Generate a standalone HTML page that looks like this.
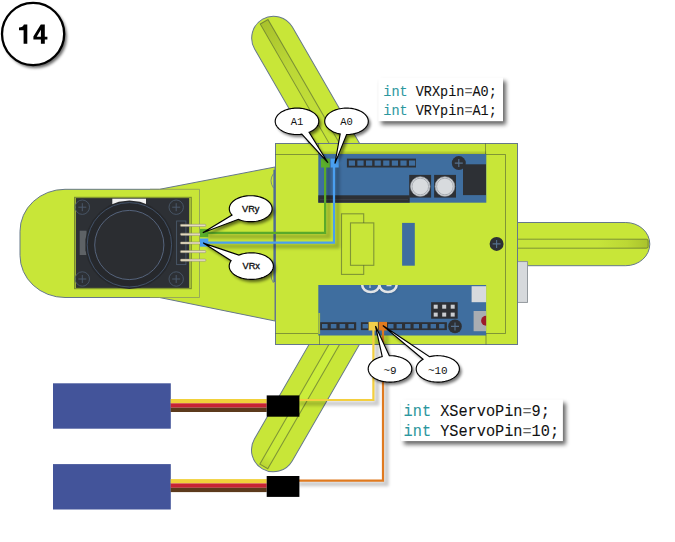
<!DOCTYPE html><html><head><meta charset="utf-8"><style>html,body{margin:0;padding:0;background:#fff;width:675px;height:542px;overflow:hidden}svg{display:block}</style></head><body><svg width="675" height="542" viewBox="0 0 675 542">
<defs>
<filter id="blur2" x="-20%" y="-20%" width="140%" height="140%"><feGaussianBlur stdDeviation="1.6"/></filter>
<filter id="blur15" x="-20%" y="-20%" width="140%" height="140%"><feGaussianBlur stdDeviation="1.5"/></filter>
<filter id="blur1" x="-20%" y="-20%" width="140%" height="140%"><feGaussianBlur stdDeviation="1"/></filter>
<filter id="blur3" x="-20%" y="-20%" width="140%" height="140%"><feGaussianBlur stdDeviation="2.2"/></filter>
<linearGradient id="grooveT" x1="0" y1="0" x2="1" y2="0">
<stop offset="0" stop-color="#a9c22c"/><stop offset="0.35" stop-color="#bcd836"/><stop offset="1" stop-color="#c6e43a"/></linearGradient>
<linearGradient id="grooveR" x1="0" y1="0" x2="1" y2="0">
<stop offset="0" stop-color="#c6e43a"/><stop offset="0.65" stop-color="#c6e43a"/><stop offset="0.85" stop-color="#bcd834"/><stop offset="1" stop-color="#a9c22c"/></linearGradient>
<linearGradient id="grooveB" x1="0" y1="0" x2="1" y2="0">
<stop offset="0" stop-color="#b9d432"/><stop offset="0.08" stop-color="#c9ea3a"/><stop offset="1" stop-color="#cdef3c"/></linearGradient>
<linearGradient id="topsh" x1="0" y1="0" x2="0" y2="1"><stop offset="0" stop-color="#000" stop-opacity="0"/><stop offset="1" stop-color="#000" stop-opacity="0.22"/></linearGradient>
<radialGradient id="knob" cx="0.5" cy="0.5" r="0.5"><stop offset="0.7" stop-color="#2a2c30"/><stop offset="1" stop-color="#232528"/></radialGradient>
</defs>
<rect width="675" height="542" fill="#fff"/>
<circle cx="35.3" cy="36.6" r="31.5" fill="#000" opacity="0.6" filter="url(#blur2)"/>
<circle cx="33.1" cy="34" r="31.1" fill="#fff" stroke="#000" stroke-width="2.3"/>
<path d="M19,27.6 C21.6,27.6 23.3,26.6 23.9,24.6 L27.3,24.6 L27.3,43.7 L23.6,43.7 L23.6,30.3 L19,30.3 Z" fill="#000"/>
<path fill-rule="evenodd" d="M40.8,24.6 L44.8,24.6 L44.8,36.8 L47.4,36.8 L47.4,39.5 L44.8,39.5 L44.8,43.7 L40.9,43.7 L40.9,39.5 L33.4,39.5 L33.4,36.5 Z M36.7,36.8 L40.9,36.8 L40.9,29.8 Z" fill="#000"/>
<g transform="translate(273.5,38) rotate(60)">
<path d="M0,-21.8 L140,-21.8 L140,21.8 L0,21.8 A21.8,21.8 0 0 1 0,-21.8 Z" fill="#c8e638" stroke="#66788a" stroke-width="1"/>
</g>
<g transform="translate(273.5,38) rotate(60)">
<rect x="-18.8" y="-4.5" width="150" height="9" fill="url(#grooveT)" stroke="rgba(55,70,50,0.5)" stroke-width="1"/>
</g>
<g transform="translate(273.3,450) rotate(-60)">
<path d="M0,-21.8 L140,-21.8 L140,21.8 L0,21.8 A21.8,21.8 0 0 1 0,-21.8 Z" fill="#c8e638" stroke="#66788a" stroke-width="1"/>
</g>
<g transform="translate(273.3,450) rotate(-60)">
<rect x="-19" y="-4.6" width="150" height="9.2" fill="url(#grooveB)" stroke="rgba(55,70,50,0.5)" stroke-width="1"/>
</g>
<path d="M500,222.5 L625.8,222.5 A24,21.6 0 0 1 625.8,265.7 L500,265.7 Z" fill="#c8e638" stroke="#66788a" stroke-width="1"/>
<path d="M505,239.2 H646.5 Q648.2,239.2 648.2,241 V246.4 Q648.2,248.2 646.5,248.2 H505 Z" fill="url(#grooveR)" stroke="rgba(55,70,50,0.5)" stroke-width="1"/>
<rect x="517.5" y="261.6" width="10" height="40.8" fill="#d6d9dc" stroke="#8a9096" stroke-width="0.9"/>
<path d="M275,167 L159.5,189.3 L65,189.3 A45,42 0 0 0 20,231.3 L20,255.5 A45,42 0 0 0 65,297.5 L159.5,297.5 L275,321 Z" fill="#c8e638" stroke="#66788a" stroke-width="1"/>
<rect x="275.5" y="143.5" width="242" height="201" fill="#c8e638" stroke="#66788a" stroke-width="1"/>
<path d="M275.5,154.5 H318.5 V143.5 M485.5,143.5 V154.5 H505.5 V333.5 H486 V344.5 M275.5,333.5 H319.5 V344.5 M319.5,315 V334" fill="none" stroke="rgba(55,70,50,0.5)" stroke-width="1"/>
<path d="M274.2,169.8 V282" stroke="#4d6d95" stroke-width="1.6"/>
<path d="M273.5,173.5 Q268.5,180.7 273.5,188" fill="none" stroke="#66788a" stroke-width="0.8"/>
<path d="M273.5,267 Q268.5,275 273.5,283" fill="none" stroke="#66788a" stroke-width="0.8"/>
<rect x="318.5" y="150.5" width="167.8" height="4" fill="url(#topsh)"/>
<rect x="318.3" y="154" width="168" height="48.7" fill="#3f6e9f"/>
<rect x="318.3" y="195.3" width="91.4" height="7.4" fill="#2d3035"/>
<rect x="320" y="199" width="88" height="1.2" fill="#3a3e44"/>
<rect x="346.9" y="158.6" width="69.1" height="8.9" fill="#2d3035"/>
<rect x="348.80" y="160.5" width="6.2" height="5.2" fill="#3f6e9f"/>
<rect x="357.40" y="160.5" width="6.2" height="5.2" fill="#3f6e9f"/>
<rect x="366.00" y="160.5" width="6.2" height="5.2" fill="#3f6e9f"/>
<rect x="374.60" y="160.5" width="6.2" height="5.2" fill="#3f6e9f"/>
<rect x="383.20" y="160.5" width="6.2" height="5.2" fill="#3f6e9f"/>
<rect x="391.80" y="160.5" width="6.2" height="5.2" fill="#3f6e9f"/>
<rect x="400.40" y="160.5" width="6.2" height="5.2" fill="#3f6e9f"/>
<rect x="409.00" y="160.5" width="6.2" height="5.2" fill="#3f6e9f"/>
<rect x="409.2" y="174.9" width="21.9" height="22.7" fill="#2d3035"/>
<circle cx="420.3" cy="186.5" r="9.8" fill="#d8dbde" stroke="#9ca1a7" stroke-width="0.7"/>
<circle cx="420.3" cy="186.5" r="8.3" fill="none" stroke="#9ca1a7" stroke-width="0.8"/>
<rect x="434.1" y="174.9" width="21.9" height="22.7" fill="#2d3035"/>
<circle cx="444.9" cy="186.5" r="9.8" fill="#d8dbde" stroke="#9ca1a7" stroke-width="0.7"/>
<circle cx="444.9" cy="186.5" r="8.3" fill="none" stroke="#9ca1a7" stroke-width="0.8"/>
<circle cx="458.8" cy="163.1" r="7" fill="#2d3035"/>
<path d="M454.8,163.1 H462.8 M458.8,159.1 V167.1" stroke="#55708e" stroke-width="1.1"/>
<rect x="463" y="164.3" width="23" height="30.8" fill="#2d3035"/>
<rect x="341.5" y="213.8" width="22.2" height="60.6" fill="none" stroke="rgba(55,70,50,0.5)" stroke-width="1.1"/>
<rect x="350.5" y="222.9" width="23.3" height="42.4" fill="#c8e638" stroke="rgba(55,70,50,0.5)" stroke-width="1.1"/>
<rect x="402.1" y="222.9" width="12.7" height="42.8" fill="#3f6e9f"/>
<circle cx="496.6" cy="243.9" r="7" fill="#2d3035"/>
<path d="M492.6,243.9 H500.6 M496.6,239.9 V247.9" stroke="#55708e" stroke-width="1.1"/>
<rect x="318.3" y="285" width="167.8" height="50.5" fill="#3f6e9f"/>
<rect x="318.3" y="313" width="1.8" height="21" fill="#a9c33a"/>
<path d="M362.2,285.1 A8.6,6.9 0 0 0 379.4,285.1 A8.6,6.9 0 0 0 396.6,285.1" fill="none" stroke="#2d4a6a" stroke-width="2.6" opacity="0.35" transform="translate(0.6,0.8)" filter="url(#blur1)"/>
<path d="M362.2,285.1 A8.6,6.9 0 0 0 379.4,285.1 A8.6,6.9 0 0 0 396.6,285.1" fill="none" stroke="#e2e4e6" stroke-width="2.6"/>
<path d="M370,285.2 V288 M386.5,285.6 H391.5" stroke="#d5dadf" stroke-width="1.1"/>
<rect x="471.6" y="286.2" width="14.5" height="16" fill="#d7dadd"/>
<rect x="431.1" y="302.2" width="26.6" height="16.5" fill="#2d3035"/>
<rect x="433.7" y="304.7" width="4" height="4" fill="#c9ccd0"/>
<rect x="433.7" y="312.6" width="4" height="4" fill="#c9ccd0"/>
<rect x="442.2" y="304.7" width="4" height="4" fill="#c9ccd0"/>
<rect x="442.2" y="312.6" width="4" height="4" fill="#c9ccd0"/>
<rect x="450.7" y="304.7" width="4" height="4" fill="#c9ccd0"/>
<rect x="450.7" y="312.6" width="4" height="4" fill="#c9ccd0"/>
<rect x="473.6" y="311" width="12.5" height="20.2" fill="#a9adb2"/>
<path d="M486.1,315.8 A5,5 0 0 0 486.1,325.8 Z" fill="#9b1b2a"/>
<rect x="320.2" y="322.2" width="36" height="7.9" fill="#2d3035"/>
<rect x="322.00" y="324" width="5.6" height="4.4" fill="#3f6e9f"/>
<rect x="330.80" y="324" width="5.6" height="4.4" fill="#3f6e9f"/>
<rect x="339.60" y="324" width="5.6" height="4.4" fill="#3f6e9f"/>
<rect x="348.40" y="324" width="5.6" height="4.4" fill="#3f6e9f"/>
<rect x="360.9" y="322.2" width="86" height="7.9" fill="#2d3035"/>
<rect x="362.60" y="324" width="5.4" height="4.4" fill="#3f6e9f"/>
<rect x="371.10" y="324" width="5.4" height="4.4" fill="#3f6e9f"/>
<rect x="379.60" y="324" width="5.4" height="4.4" fill="#3f6e9f"/>
<rect x="388.10" y="324" width="5.4" height="4.4" fill="#3f6e9f"/>
<rect x="396.60" y="324" width="5.4" height="4.4" fill="#3f6e9f"/>
<rect x="405.10" y="324" width="5.4" height="4.4" fill="#3f6e9f"/>
<rect x="413.60" y="324" width="5.4" height="4.4" fill="#3f6e9f"/>
<rect x="422.10" y="324" width="5.4" height="4.4" fill="#3f6e9f"/>
<rect x="430.60" y="324" width="5.4" height="4.4" fill="#3f6e9f"/>
<rect x="439.10" y="324" width="5.4" height="4.4" fill="#3f6e9f"/>
<circle cx="455" cy="326.4" r="6.8" fill="#2d3035"/>
<path d="M451,326.4 H459 M455,322.4 V330.4" stroke="#55708e" stroke-width="1.1"/>
<path d="M150,189.3 H199.5 V297.5 H150" fill="none" stroke="#8a9a60" stroke-width="0.8"/>
<rect x="74.5" y="197.3" width="116.8" height="91.4" fill="#b4cc3a" stroke="rgba(60,75,40,0.55)" stroke-width="1"/>
<rect x="75.8" y="198.1" width="113.4" height="89.8" fill="#2d3035"/>
<rect x="112.3" y="198.7" width="33.7" height="5.8" fill="#f2f2f2"/>
<rect x="79.7" y="230.7" width="6.8" height="24.3" fill="#5e6266"/>
<circle cx="82.3" cy="207.2" r="7.2" fill="none" stroke="#4a586a" stroke-width="0.9"/>
<path d="M78.3,207.2 H86.3 M82.3,203.2 V211.2" stroke="#4a586a" stroke-width="1"/>
<circle cx="176.2" cy="207.2" r="7.2" fill="none" stroke="#4a586a" stroke-width="0.9"/>
<path d="M172.2,207.2 H180.2 M176.2,203.2 V211.2" stroke="#4a586a" stroke-width="1"/>
<circle cx="82.3" cy="279" r="7.2" fill="none" stroke="#4a586a" stroke-width="0.9"/>
<path d="M78.3,279 H86.3 M82.3,275 V283" stroke="#4a586a" stroke-width="1"/>
<circle cx="176.2" cy="279" r="7.2" fill="none" stroke="#4a586a" stroke-width="0.9"/>
<path d="M172.2,279 H180.2 M176.2,275 V283" stroke="#4a586a" stroke-width="1"/>
<polygon points="129.40,200.50 140.00,201.79 149.99,205.57 158.78,211.64 165.86,219.63 170.82,229.09 173.38,239.46 173.38,250.14 170.82,260.51 165.86,269.97 158.78,277.96 149.99,284.03 140.00,287.81 129.40,289.10 118.80,287.81 108.81,284.03 100.02,277.96 92.94,269.97 87.98,260.51 85.42,250.14 85.42,239.46 87.98,229.09 92.94,219.63 100.02,211.64 108.81,205.57 118.80,201.79" fill="#26282c"/>
<circle cx="129.4" cy="244.8" r="42.2" fill="none" stroke="#45566e" stroke-width="0.9"/>
<circle cx="129.3" cy="245" r="34.6" fill="#2b2d31" stroke="#5a6a84" stroke-width="0.9"/>
<rect x="176.6" y="221" width="9.3" height="43.6" fill="none" stroke="#4a586a" stroke-width="0.9"/>
<rect x="180.4" y="224.3" width="25.4" height="2.2" rx="0.8" fill="#e6dcc0" stroke="#8c8878" stroke-width="0.5"/>
<rect x="180.4" y="233.2" width="25.4" height="2.2" rx="0.8" fill="#e6dcc0" stroke="#8c8878" stroke-width="0.5"/>
<rect x="180.4" y="241.9" width="25.4" height="2.2" rx="0.8" fill="#e6dcc0" stroke="#8c8878" stroke-width="0.5"/>
<rect x="180.4" y="250.5" width="25.4" height="2.2" rx="0.8" fill="#e6dcc0" stroke="#8c8878" stroke-width="0.5"/>
<rect x="180.4" y="259.1" width="25.4" height="2.2" rx="0.8" fill="#e6dcc0" stroke="#8c8878" stroke-width="0.5"/>
<g filter="url(#blur15)" opacity="0.22">
<path d="M208,236.5 H328.6 V163" fill="none" stroke="#000" stroke-width="4.5"/>
<path d="M208,246.3 H337.6 V165" fill="none" stroke="#000" stroke-width="4.5"/>
</g>
<path d="M204,232.9 H325.1 V163" fill="none" stroke="#5aaa2a" stroke-width="2.2"/>
<path d="M204,242.7 H334 V163" fill="none" stroke="#4a9ff0" stroke-width="2.2"/>
<rect x="200" y="228.9" width="8.3" height="8.3" fill="#5aae2c"/>
<rect x="200" y="238.5" width="8.3" height="8.2" fill="#4a9ff0"/>
<rect x="320.9" y="158.6" width="8.9" height="8.9" fill="#5aae2c"/>
<rect x="330.6" y="158.6" width="8.1" height="8.9" fill="#4a9ff0"/>
<rect x="53" y="383.3" width="117.8" height="45.4" fill="#43549a"/>
<rect x="53" y="464.1" width="117.8" height="45.4" fill="#43549a"/>
<rect x="170.7" y="399" width="96" height="4.3" fill="#f1d13a"/>
<rect x="170.7" y="403.3" width="96" height="4.4" fill="#c72333"/>
<rect x="170.7" y="407.7" width="96" height="4.3" fill="#5c3a1c"/>
<rect x="170.7" y="479.1" width="96" height="4.3" fill="#f1d13a"/>
<rect x="170.7" y="483.40000000000003" width="96" height="4.4" fill="#c72333"/>
<rect x="170.7" y="487.8" width="96" height="4.3" fill="#5c3a1c"/>
<g filter="url(#blur15)" opacity="0.2">
<path d="M299,403.5 H377 V334" fill="none" stroke="#000" stroke-width="4.5"/>
<path d="M299,484 H386.5 V334" fill="none" stroke="#000" stroke-width="4.5"/>
</g>
<path d="M299,400 H373.4 V326" fill="none" stroke="#f4cf3e" stroke-width="2.2"/>
<path d="M299,480.6 H383 V326" fill="none" stroke="#e07a1f" stroke-width="2.2"/>
<rect x="368.6" y="321.9" width="9.3" height="8.6" fill="#f4cf4a"/>
<rect x="378.7" y="321.9" width="8.3" height="8.6" fill="#e07a1f"/>
<rect x="266.7" y="395.4" width="32.7" height="21.3" fill="#000"/>
<rect x="266.7" y="476" width="32.7" height="20.9" fill="#000"/>
<path d="M327.90,162.70 L309.08,132.29 L310.39,131.72 L311.63,131.09 L312.78,130.41 L313.85,129.68 L314.83,128.90 L315.70,128.08 L316.48,127.22 L317.15,126.34 L317.71,125.42 L318.16,124.48 L318.49,123.53 L318.70,122.56 L318.79,121.59 L318.77,120.61 L318.63,119.64 L318.36,118.67 L317.99,117.73 L317.49,116.80 L316.89,115.89 L316.17,115.02 L315.35,114.18 L314.43,113.37 L313.42,112.62 L312.31,111.91 L311.13,111.25 L309.86,110.64 L308.52,110.09 L307.12,109.61 L305.67,109.19 L304.17,108.83 L302.63,108.55 L301.06,108.33 L299.46,108.18 L297.85,108.11 L296.24,108.11 L294.63,108.18 L293.04,108.32 L291.47,108.53 L289.92,108.81 L288.42,109.17 L286.96,109.58 L285.56,110.06 L284.22,110.61 L282.95,111.21 L281.76,111.86 L280.65,112.57 L279.62,113.33 L278.70,114.13 L277.87,114.97 L277.15,115.84 L276.54,116.74 L276.04,117.67 L275.65,118.62 L275.39,119.58 L275.24,120.55 L275.20,121.53 L275.29,122.50 L275.50,123.47 L275.82,124.43 L276.26,125.37 L276.81,126.28 L277.48,127.17 L278.25,128.03 L279.12,128.85 L280.09,129.63 L281.15,130.36 L282.30,131.05 L283.53,131.68 L284.83,132.25 L286.20,132.77 L287.63,133.22 L289.11,133.61 L290.64,133.93 L292.20,134.18 L293.78,134.36 L295.38,134.46 L296.99,134.50 L298.60,134.46 L300.21,134.36 L301.79,134.18 Z" fill="#000" opacity="0.55" transform="translate(2.2,2.6)" filter="url(#blur2)"/>
<path d="M327.90,162.70 L309.08,132.29 L310.39,131.72 L311.63,131.09 L312.78,130.41 L313.85,129.68 L314.83,128.90 L315.70,128.08 L316.48,127.22 L317.15,126.34 L317.71,125.42 L318.16,124.48 L318.49,123.53 L318.70,122.56 L318.79,121.59 L318.77,120.61 L318.63,119.64 L318.36,118.67 L317.99,117.73 L317.49,116.80 L316.89,115.89 L316.17,115.02 L315.35,114.18 L314.43,113.37 L313.42,112.62 L312.31,111.91 L311.13,111.25 L309.86,110.64 L308.52,110.09 L307.12,109.61 L305.67,109.19 L304.17,108.83 L302.63,108.55 L301.06,108.33 L299.46,108.18 L297.85,108.11 L296.24,108.11 L294.63,108.18 L293.04,108.32 L291.47,108.53 L289.92,108.81 L288.42,109.17 L286.96,109.58 L285.56,110.06 L284.22,110.61 L282.95,111.21 L281.76,111.86 L280.65,112.57 L279.62,113.33 L278.70,114.13 L277.87,114.97 L277.15,115.84 L276.54,116.74 L276.04,117.67 L275.65,118.62 L275.39,119.58 L275.24,120.55 L275.20,121.53 L275.29,122.50 L275.50,123.47 L275.82,124.43 L276.26,125.37 L276.81,126.28 L277.48,127.17 L278.25,128.03 L279.12,128.85 L280.09,129.63 L281.15,130.36 L282.30,131.05 L283.53,131.68 L284.83,132.25 L286.20,132.77 L287.63,133.22 L289.11,133.61 L290.64,133.93 L292.20,134.18 L293.78,134.36 L295.38,134.46 L296.99,134.50 L298.60,134.46 L300.21,134.36 L301.79,134.18 Z" fill="#fff" stroke="#000" stroke-width="1.15" stroke-linejoin="miter"/>
<text x="297.00" y="122.30" font-family="Liberation Mono" font-size="10.5" text-anchor="middle" dominant-baseline="central" fill="#111" stroke="#111" stroke-width="0">A1</text>
<path d="M334.90,163.60 L346.60,134.50 L348.23,134.46 L349.85,134.34 L351.45,134.16 L353.02,133.90 L354.56,133.57 L356.05,133.17 L357.49,132.70 L358.86,132.17 L360.17,131.58 L361.40,130.93 L362.55,130.23 L363.61,129.48 L364.57,128.68 L365.43,127.85 L366.19,126.97 L366.83,126.06 L367.36,125.13 L367.78,124.18 L368.07,123.21 L368.25,122.22 L368.30,121.24 L368.23,120.25 L368.04,119.27 L367.73,118.30 L367.30,117.35 L366.75,116.42 L366.10,115.52 L365.33,114.65 L364.45,113.81 L363.48,113.02 L362.41,112.28 L361.25,111.58 L360.01,110.94 L358.69,110.36 L357.31,109.84 L355.86,109.38 L354.37,108.99 L352.82,108.67 L351.25,108.42 L349.64,108.24 L348.02,108.13 L346.39,108.10 L344.76,108.14 L343.14,108.26 L341.54,108.45 L339.97,108.71 L338.44,109.04 L336.94,109.44 L335.51,109.90 L334.13,110.43 L332.82,111.02 L331.59,111.67 L330.45,112.37 L329.39,113.12 L328.43,113.92 L327.57,114.76 L326.81,115.63 L326.17,116.54 L325.64,117.47 L325.22,118.43 L324.93,119.40 L324.75,120.38 L324.70,121.37 L324.77,122.35 L324.96,123.33 L325.27,124.30 L325.70,125.26 L326.25,126.19 L326.91,127.09 L327.68,127.96 L328.55,128.79 L329.53,129.58 L330.60,130.33 L331.76,131.02 L333.00,131.66 L334.31,132.24 L335.70,132.77 L337.14,133.22 L338.64,133.61 L340.18,133.93 Z" fill="#000" opacity="0.55" transform="translate(2.2,2.6)" filter="url(#blur2)"/>
<path d="M334.90,163.60 L346.60,134.50 L348.23,134.46 L349.85,134.34 L351.45,134.16 L353.02,133.90 L354.56,133.57 L356.05,133.17 L357.49,132.70 L358.86,132.17 L360.17,131.58 L361.40,130.93 L362.55,130.23 L363.61,129.48 L364.57,128.68 L365.43,127.85 L366.19,126.97 L366.83,126.06 L367.36,125.13 L367.78,124.18 L368.07,123.21 L368.25,122.22 L368.30,121.24 L368.23,120.25 L368.04,119.27 L367.73,118.30 L367.30,117.35 L366.75,116.42 L366.10,115.52 L365.33,114.65 L364.45,113.81 L363.48,113.02 L362.41,112.28 L361.25,111.58 L360.01,110.94 L358.69,110.36 L357.31,109.84 L355.86,109.38 L354.37,108.99 L352.82,108.67 L351.25,108.42 L349.64,108.24 L348.02,108.13 L346.39,108.10 L344.76,108.14 L343.14,108.26 L341.54,108.45 L339.97,108.71 L338.44,109.04 L336.94,109.44 L335.51,109.90 L334.13,110.43 L332.82,111.02 L331.59,111.67 L330.45,112.37 L329.39,113.12 L328.43,113.92 L327.57,114.76 L326.81,115.63 L326.17,116.54 L325.64,117.47 L325.22,118.43 L324.93,119.40 L324.75,120.38 L324.70,121.37 L324.77,122.35 L324.96,123.33 L325.27,124.30 L325.70,125.26 L326.25,126.19 L326.91,127.09 L327.68,127.96 L328.55,128.79 L329.53,129.58 L330.60,130.33 L331.76,131.02 L333.00,131.66 L334.31,132.24 L335.70,132.77 L337.14,133.22 L338.64,133.61 L340.18,133.93 Z" fill="#fff" stroke="#000" stroke-width="1.15" stroke-linejoin="miter"/>
<text x="346.50" y="122.30" font-family="Liberation Mono" font-size="10.5" text-anchor="middle" dominant-baseline="central" fill="#111" stroke="#111" stroke-width="0">A0</text>
<path d="M202.80,232.80 L238.36,219.32 L239.67,219.84 L241.03,220.30 L242.45,220.69 L243.91,221.03 L245.41,221.30 L246.93,221.50 L248.48,221.63 L250.03,221.69 L251.60,221.69 L253.15,221.61 L254.69,221.47 L256.22,221.26 L257.71,220.98 L259.16,220.64 L260.57,220.23 L261.93,219.77 L263.23,219.24 L264.46,218.66 L265.62,218.02 L266.70,217.34 L267.69,216.60 L268.59,215.83 L269.40,215.02 L270.11,214.18 L270.71,213.30 L271.21,212.40 L271.60,211.49 L271.88,210.55 L272.05,209.61 L272.10,208.66 L272.04,207.72 L271.86,206.77 L271.58,205.84 L271.18,204.92 L270.67,204.03 L270.06,203.16 L269.34,202.31 L268.52,201.51 L267.61,200.74 L266.61,200.01 L265.53,199.33 L264.36,198.70 L263.13,198.12 L261.83,197.60 L260.46,197.13 L259.05,196.73 L257.59,196.39 L256.10,196.12 L254.57,195.91 L253.03,195.78 L251.47,195.71 L249.91,195.71 L248.36,195.78 L246.81,195.92 L245.29,196.12 L243.79,196.40 L242.34,196.73 L240.92,197.14 L239.56,197.60 L238.26,198.12 L237.02,198.70 L235.86,199.33 L234.78,200.02 L233.78,200.74 L232.87,201.51 L232.05,202.32 L231.34,203.16 L230.72,204.04 L230.22,204.93 L229.82,205.85 L229.53,206.78 L229.36,207.72 L229.30,208.67 L229.35,209.62 L229.52,210.56 L229.80,211.49 L230.19,212.41 L230.69,213.31 L231.30,214.18 L232.01,215.03 Z" fill="#000" opacity="0.55" transform="translate(2.2,2.6)" filter="url(#blur2)"/>
<path d="M202.80,232.80 L238.36,219.32 L239.67,219.84 L241.03,220.30 L242.45,220.69 L243.91,221.03 L245.41,221.30 L246.93,221.50 L248.48,221.63 L250.03,221.69 L251.60,221.69 L253.15,221.61 L254.69,221.47 L256.22,221.26 L257.71,220.98 L259.16,220.64 L260.57,220.23 L261.93,219.77 L263.23,219.24 L264.46,218.66 L265.62,218.02 L266.70,217.34 L267.69,216.60 L268.59,215.83 L269.40,215.02 L270.11,214.18 L270.71,213.30 L271.21,212.40 L271.60,211.49 L271.88,210.55 L272.05,209.61 L272.10,208.66 L272.04,207.72 L271.86,206.77 L271.58,205.84 L271.18,204.92 L270.67,204.03 L270.06,203.16 L269.34,202.31 L268.52,201.51 L267.61,200.74 L266.61,200.01 L265.53,199.33 L264.36,198.70 L263.13,198.12 L261.83,197.60 L260.46,197.13 L259.05,196.73 L257.59,196.39 L256.10,196.12 L254.57,195.91 L253.03,195.78 L251.47,195.71 L249.91,195.71 L248.36,195.78 L246.81,195.92 L245.29,196.12 L243.79,196.40 L242.34,196.73 L240.92,197.14 L239.56,197.60 L238.26,198.12 L237.02,198.70 L235.86,199.33 L234.78,200.02 L233.78,200.74 L232.87,201.51 L232.05,202.32 L231.34,203.16 L230.72,204.04 L230.22,204.93 L229.82,205.85 L229.53,206.78 L229.36,207.72 L229.30,208.67 L229.35,209.62 L229.52,210.56 L229.80,211.49 L230.19,212.41 L230.69,213.31 L231.30,214.18 L232.01,215.03 Z" fill="#fff" stroke="#000" stroke-width="1.15" stroke-linejoin="miter"/>
<text x="250.70" y="209.00" font-family="Liberation Sans" font-size="9.2" text-anchor="middle" dominant-baseline="central" fill="#111" stroke="#111" stroke-width="0.35">VRy</text>
<path d="M203.30,243.10 L231.14,260.66 L230.54,261.54 L230.05,262.44 L229.67,263.37 L229.40,264.31 L229.24,265.26 L229.20,266.21 L229.27,267.16 L229.45,268.11 L229.75,269.04 L230.15,269.97 L230.67,270.87 L231.29,271.74 L232.01,272.59 L232.83,273.41 L233.75,274.18 L234.76,274.92 L235.85,275.61 L237.02,276.25 L238.26,276.84 L239.57,277.37 L240.95,277.85 L242.37,278.27 L243.84,278.62 L245.35,278.91 L246.89,279.13 L248.45,279.29 L250.03,279.38 L251.61,279.40 L253.19,279.35 L254.76,279.24 L256.32,279.05 L257.84,278.80 L259.34,278.49 L260.79,278.11 L262.20,277.67 L263.55,277.17 L264.83,276.62 L266.05,276.01 L267.19,275.34 L268.25,274.64 L269.22,273.88 L270.10,273.09 L270.88,272.26 L271.57,271.40 L272.15,270.52 L272.62,269.61 L272.98,268.68 L273.23,267.74 L273.37,266.79 L273.40,265.84 L273.31,264.89 L273.11,263.94 L272.79,263.01 L272.37,262.09 L271.84,261.19 L271.20,260.32 L270.46,259.48 L269.63,258.67 L268.69,257.90 L267.67,257.17 L266.57,256.48 L265.39,255.85 L264.13,255.27 L262.81,254.75 L261.43,254.28 L260.00,253.87 L258.52,253.53 L257.01,253.25 L255.46,253.04 L253.90,252.89 L252.32,252.81 L250.74,252.80 L249.16,252.86 L247.59,252.99 L246.04,253.18 L244.51,253.44 L243.02,253.77 L241.58,254.16 L240.18,254.61 L238.84,255.11 Z" fill="#000" opacity="0.55" transform="translate(2.2,2.6)" filter="url(#blur2)"/>
<path d="M203.30,243.10 L231.14,260.66 L230.54,261.54 L230.05,262.44 L229.67,263.37 L229.40,264.31 L229.24,265.26 L229.20,266.21 L229.27,267.16 L229.45,268.11 L229.75,269.04 L230.15,269.97 L230.67,270.87 L231.29,271.74 L232.01,272.59 L232.83,273.41 L233.75,274.18 L234.76,274.92 L235.85,275.61 L237.02,276.25 L238.26,276.84 L239.57,277.37 L240.95,277.85 L242.37,278.27 L243.84,278.62 L245.35,278.91 L246.89,279.13 L248.45,279.29 L250.03,279.38 L251.61,279.40 L253.19,279.35 L254.76,279.24 L256.32,279.05 L257.84,278.80 L259.34,278.49 L260.79,278.11 L262.20,277.67 L263.55,277.17 L264.83,276.62 L266.05,276.01 L267.19,275.34 L268.25,274.64 L269.22,273.88 L270.10,273.09 L270.88,272.26 L271.57,271.40 L272.15,270.52 L272.62,269.61 L272.98,268.68 L273.23,267.74 L273.37,266.79 L273.40,265.84 L273.31,264.89 L273.11,263.94 L272.79,263.01 L272.37,262.09 L271.84,261.19 L271.20,260.32 L270.46,259.48 L269.63,258.67 L268.69,257.90 L267.67,257.17 L266.57,256.48 L265.39,255.85 L264.13,255.27 L262.81,254.75 L261.43,254.28 L260.00,253.87 L258.52,253.53 L257.01,253.25 L255.46,253.04 L253.90,252.89 L252.32,252.81 L250.74,252.80 L249.16,252.86 L247.59,252.99 L246.04,253.18 L244.51,253.44 L243.02,253.77 L241.58,254.16 L240.18,254.61 L238.84,255.11 Z" fill="#fff" stroke="#000" stroke-width="1.15" stroke-linejoin="miter"/>
<text x="251.30" y="266.40" font-family="Liberation Sans" font-size="9.2" text-anchor="middle" dominant-baseline="central" fill="#111" stroke="#111" stroke-width="0.35">VRx</text>
<path d="M375.50,326.10 L389.30,355.71 L390.92,355.71 L392.54,355.79 L394.14,355.94 L395.72,356.16 L397.27,356.45 L398.77,356.82 L400.23,357.24 L401.64,357.74 L402.97,358.29 L404.24,358.90 L405.43,359.57 L406.53,360.29 L407.54,361.06 L408.45,361.87 L409.26,362.72 L409.97,363.61 L410.56,364.52 L411.05,365.46 L411.41,366.41 L411.66,367.38 L411.78,368.36 L411.79,369.34 L411.67,370.32 L411.44,371.29 L411.09,372.25 L410.62,373.19 L410.03,374.11 L409.34,374.99 L408.54,375.85 L407.63,376.66 L406.63,377.43 L405.54,378.16 L404.36,378.83 L403.10,379.45 L401.77,380.01 L400.37,380.51 L398.92,380.95 L397.41,381.31 L395.87,381.61 L394.29,381.84 L392.69,382.00 L391.08,382.08 L389.46,382.10 L387.84,382.03 L386.23,381.90 L384.65,381.70 L383.09,381.42 L381.57,381.07 L380.10,380.66 L378.69,380.18 L377.33,379.64 L376.05,379.04 L374.84,378.39 L373.72,377.68 L372.69,376.92 L371.75,376.12 L370.92,375.28 L370.19,374.40 L369.56,373.50 L369.06,372.56 L368.67,371.61 L368.39,370.64 L368.24,369.67 L368.20,368.69 L368.29,367.71 L368.50,366.73 L368.82,365.77 L369.26,364.83 L369.82,363.90 L370.49,363.01 L371.27,362.15 L372.15,361.32 L373.13,360.54 L374.20,359.81 L375.36,359.12 L376.60,358.49 L377.92,357.91 L379.30,357.40 L380.74,356.95 L382.23,356.57 Z" fill="#000" opacity="0.55" transform="translate(2.2,2.6)" filter="url(#blur2)"/>
<path d="M375.50,326.10 L389.30,355.71 L390.92,355.71 L392.54,355.79 L394.14,355.94 L395.72,356.16 L397.27,356.45 L398.77,356.82 L400.23,357.24 L401.64,357.74 L402.97,358.29 L404.24,358.90 L405.43,359.57 L406.53,360.29 L407.54,361.06 L408.45,361.87 L409.26,362.72 L409.97,363.61 L410.56,364.52 L411.05,365.46 L411.41,366.41 L411.66,367.38 L411.78,368.36 L411.79,369.34 L411.67,370.32 L411.44,371.29 L411.09,372.25 L410.62,373.19 L410.03,374.11 L409.34,374.99 L408.54,375.85 L407.63,376.66 L406.63,377.43 L405.54,378.16 L404.36,378.83 L403.10,379.45 L401.77,380.01 L400.37,380.51 L398.92,380.95 L397.41,381.31 L395.87,381.61 L394.29,381.84 L392.69,382.00 L391.08,382.08 L389.46,382.10 L387.84,382.03 L386.23,381.90 L384.65,381.70 L383.09,381.42 L381.57,381.07 L380.10,380.66 L378.69,380.18 L377.33,379.64 L376.05,379.04 L374.84,378.39 L373.72,377.68 L372.69,376.92 L371.75,376.12 L370.92,375.28 L370.19,374.40 L369.56,373.50 L369.06,372.56 L368.67,371.61 L368.39,370.64 L368.24,369.67 L368.20,368.69 L368.29,367.71 L368.50,366.73 L368.82,365.77 L369.26,364.83 L369.82,363.90 L370.49,363.01 L371.27,362.15 L372.15,361.32 L373.13,360.54 L374.20,359.81 L375.36,359.12 L376.60,358.49 L377.92,357.91 L379.30,357.40 L380.74,356.95 L382.23,356.57 Z" fill="#fff" stroke="#000" stroke-width="1.15" stroke-linejoin="miter"/>
<text x="390.00" y="370.90" font-family="Liberation Mono" font-size="11" text-anchor="middle" dominant-baseline="central" fill="#111" stroke="#111" stroke-width="0">~9</text>
<path d="M382.80,325.60 L429.45,356.73 L430.95,356.38 L432.49,356.11 L434.05,355.90 L435.64,355.77 L437.23,355.70 L438.83,355.72 L440.43,355.80 L442.01,355.95 L443.57,356.18 L445.09,356.47 L446.58,356.84 L448.01,357.27 L449.40,357.76 L450.71,358.32 L451.96,358.93 L453.13,359.60 L454.21,360.32 L455.21,361.08 L456.11,361.89 L456.91,362.74 L457.60,363.62 L458.18,364.53 L458.66,365.47 L459.02,366.42 L459.26,367.39 L459.38,368.36 L459.39,369.34 L459.28,370.32 L459.04,371.28 L458.70,372.24 L458.24,373.17 L457.66,374.09 L456.98,374.97 L456.19,375.82 L455.30,376.64 L454.32,377.41 L453.24,378.13 L452.08,378.80 L450.84,379.42 L449.53,379.98 L448.15,380.48 L446.72,380.92 L445.24,381.29 L443.72,381.59 L442.17,381.83 L440.59,381.99 L438.99,382.08 L437.39,382.10 L435.80,382.04 L434.21,381.92 L432.64,381.72 L431.10,381.45 L429.60,381.11 L428.14,380.71 L426.74,380.24 L425.40,379.71 L424.12,379.12 L422.92,378.47 L421.80,377.77 L420.77,377.02 L419.84,376.23 L419.00,375.40 L418.26,374.53 L417.63,373.63 L417.12,372.70 L416.71,371.76 L416.42,370.79 L416.25,369.82 L416.20,368.84 L416.27,367.87 L416.45,366.90 L416.75,365.94 L417.17,364.99 L417.70,364.07 L418.34,363.17 L419.09,362.31 L419.94,361.48 L420.88,360.69 L421.93,359.95 L423.05,359.25 Z" fill="#000" opacity="0.55" transform="translate(2.2,2.6)" filter="url(#blur2)"/>
<path d="M382.80,325.60 L429.45,356.73 L430.95,356.38 L432.49,356.11 L434.05,355.90 L435.64,355.77 L437.23,355.70 L438.83,355.72 L440.43,355.80 L442.01,355.95 L443.57,356.18 L445.09,356.47 L446.58,356.84 L448.01,357.27 L449.40,357.76 L450.71,358.32 L451.96,358.93 L453.13,359.60 L454.21,360.32 L455.21,361.08 L456.11,361.89 L456.91,362.74 L457.60,363.62 L458.18,364.53 L458.66,365.47 L459.02,366.42 L459.26,367.39 L459.38,368.36 L459.39,369.34 L459.28,370.32 L459.04,371.28 L458.70,372.24 L458.24,373.17 L457.66,374.09 L456.98,374.97 L456.19,375.82 L455.30,376.64 L454.32,377.41 L453.24,378.13 L452.08,378.80 L450.84,379.42 L449.53,379.98 L448.15,380.48 L446.72,380.92 L445.24,381.29 L443.72,381.59 L442.17,381.83 L440.59,381.99 L438.99,382.08 L437.39,382.10 L435.80,382.04 L434.21,381.92 L432.64,381.72 L431.10,381.45 L429.60,381.11 L428.14,380.71 L426.74,380.24 L425.40,379.71 L424.12,379.12 L422.92,378.47 L421.80,377.77 L420.77,377.02 L419.84,376.23 L419.00,375.40 L418.26,374.53 L417.63,373.63 L417.12,372.70 L416.71,371.76 L416.42,370.79 L416.25,369.82 L416.20,368.84 L416.27,367.87 L416.45,366.90 L416.75,365.94 L417.17,364.99 L417.70,364.07 L418.34,363.17 L419.09,362.31 L419.94,361.48 L420.88,360.69 L421.93,359.95 L423.05,359.25 Z" fill="#fff" stroke="#000" stroke-width="1.15" stroke-linejoin="miter"/>
<text x="437.80" y="370.90" font-family="Liberation Mono" font-size="11" text-anchor="middle" dominant-baseline="central" fill="#111" stroke="#111" stroke-width="0">~10</text>
<rect x="381.3" y="81.0" width="124.7" height="43.7" fill="#000" opacity="0.6" filter="url(#blur3)"/>
<rect x="378.3" y="77.5" width="124.7" height="43.7" fill="#fff"/>
<text transform="translate(383.3,96.1) scale(0.945,1)" font-family="Liberation Mono" font-size="14.3" fill="#111" stroke="#111" stroke-width="0.08"><tspan fill="#2b979e" stroke="#2b979e">int</tspan> VRXpin<tspan fill="#666" stroke="none">=</tspan>A0;</text>
<text transform="translate(383.3,114.69999999999999) scale(0.945,1)" font-family="Liberation Mono" font-size="14.3" fill="#111" stroke="#111" stroke-width="0.08"><tspan fill="#2b979e" stroke="#2b979e">int</tspan> VRYpin<tspan fill="#666" stroke="none">=</tspan>A1;</text>
<rect x="404" y="402.9" width="161.9" height="41.7" fill="#000" opacity="0.6" filter="url(#blur3)"/>
<rect x="401" y="399.4" width="161.9" height="41.7" fill="#fff"/>
<text transform="translate(403.6,415.9) scale(0.965,1)" font-family="Liberation Mono" font-size="15.8" fill="#111" stroke="#111" stroke-width="0.08"><tspan fill="#2b979e" stroke="#2b979e">int</tspan> XServoPin<tspan fill="#666" stroke="none">=</tspan>9;</text>
<text transform="translate(403.6,436.0) scale(0.965,1)" font-family="Liberation Mono" font-size="15.8" fill="#111" stroke="#111" stroke-width="0.08"><tspan fill="#2b979e" stroke="#2b979e">int</tspan> YServoPin<tspan fill="#666" stroke="none">=</tspan>10;</text>
</svg></body></html>
